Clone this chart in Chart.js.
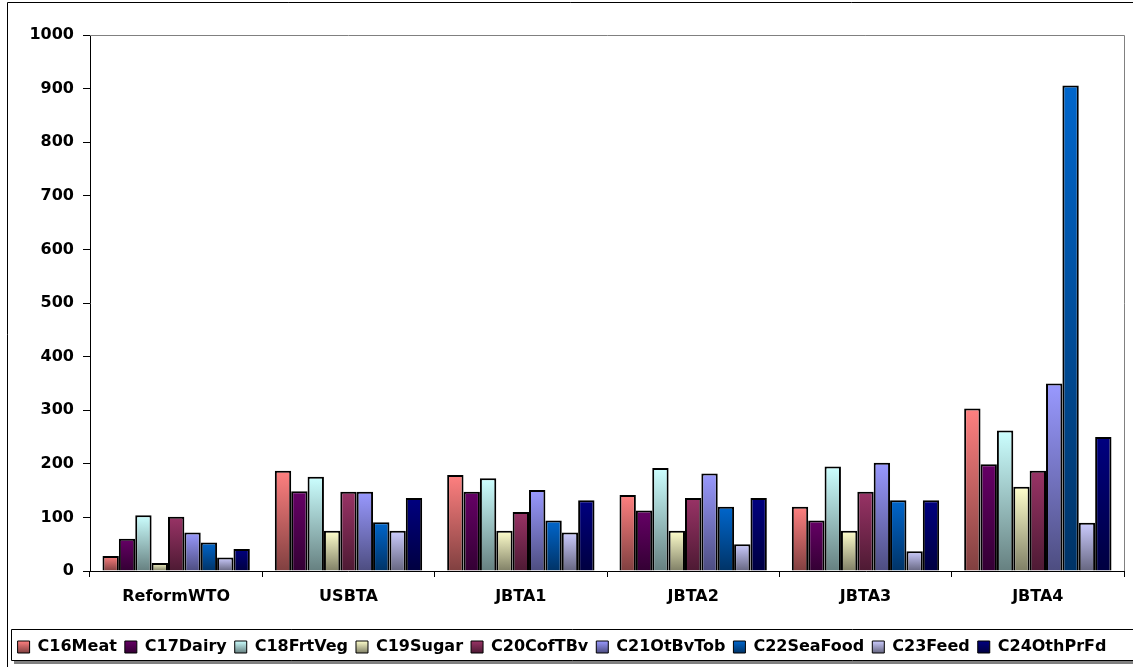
<!DOCTYPE html>
<html>
<head>
<meta charset="utf-8">
<title>Food imports by scenario</title>
<script src="https://cdn.jsdelivr.net/npm/chart.js@4/dist/chart.umd.min.js"></script>
<style>
  html, body { margin: 0; padding: 0; background: #ffffff; }
  canvas { display: block; }
</style>
</head>
<body>
<canvas id="chart" width="1133" height="667"></canvas>
<script>
// Scenarios along the category axis
const categories = ['ReformWTO', 'USBTA', 'JBTA1', 'JBTA2', 'JBTA3', 'JBTA4'];

// One series per commodity group, values per scenario
const c16Meat    = [28, 187, 179, 142, 120, 303];
const c17Dairy   = [60, 149, 148, 113, 94, 199];
const c18FrtVeg  = [104, 176, 173, 192, 195, 262];
const c19Sugar   = [15, 75, 75, 75, 75, 157];
const c20CofTBv  = [101, 148, 110, 136, 148, 187];
const c21OtBvTob = [72, 148, 151, 182, 202, 350];
const c22SeaFood = [53, 91, 94, 120, 132, 906];
const c23Feed    = [25, 75, 72, 50, 37, 90];
const c24OthPrFd = [41, 136, 132, 136, 132, 250];

const seriesNames = ['C16Meat', 'C17Dairy', 'C18FrtVeg', 'C19Sugar', 'C20CofTBv',
                     'C21OtBvTob', 'C22SeaFood', 'C23Feed', 'C24OthPrFd'];
const seriesValues = [c16Meat, c17Dairy, c18FrtVeg, c19Sugar, c20CofTBv,
                      c21OtBvTob, c22SeaFood, c23Feed, c24OthPrFd];

// Value axis tick labels
const yTickValues = [0, 100, 200, 300, 400, 500, 600, 700, 800, 900, 1000];

// Top colour of each series; bars fade to a darker shade at the base
const barColors = ['#FF8080', '#660066', '#CCFFFF', '#FFFFCC', '#993366',
                   '#9999FF', '#0066CC', '#CCCCFF', '#000080'];

const FONT = 'DejaVu Sans';

function shade(hex, f) {
  const n = parseInt(hex.slice(1), 16);
  const r = Math.round(((n >> 16) & 255) * f);
  const g = Math.round(((n >> 8) & 255) * f);
  const b = Math.round((n & 255) * f);
  return 'rgb(' + r + ',' + g + ',' + b + ')';
}

function barFill(color) {
  return (ctx) => {
    if (ctx.type !== 'data') return color;
    const chart = ctx.chart;
    const y = chart.scales && chart.scales.y;
    if (!chart.chartArea || !y) return color;
    const yTop = y.getPixelForValue(ctx.raw);
    const yBase = y.getPixelForValue(0);
    if (!isFinite(yTop) || yBase - yTop < 1) return color;
    const g = chart.ctx.createLinearGradient(0, yTop, 0, yBase);
    g.addColorStop(0, color);
    g.addColorStop(1, shade(color, 0.5));
    return g;
  };
}

const datasets = seriesNames.map((name, i) => ({
  label: name,
  data: seriesValues[i],
  backgroundColor: barFill(barColors[i]),
  borderColor: '#000000',
  borderWidth: 2,
  categoryPercentage: 0.855,
  barPercentage: 1.0
}));

const LEGEND_PAD = 8;
const LEGEND_FONT = 16;
const LEGEND_BOX = 12;

// Frames, plot border and gradient legend swatches
const framePlugin = {
  id: 'frames',
  beforeDraw(chart) {
    const c = chart.ctx;
    c.save();
    c.fillStyle = '#ffffff';
    c.fillRect(0, 0, chart.width, chart.height);
    c.restore();

    const lg = chart.legend;
    if (lg && lg.legendItems) {
      const y0 = lg.top + LEGEND_PAD + Math.max((LEGEND_FONT - LEGEND_BOX) / 2, 0);
      lg.legendItems.forEach((item, i) => {
        const g = c.createLinearGradient(0, y0, 0, y0 + LEGEND_BOX);
        g.addColorStop(0, barColors[i]);
        g.addColorStop(1, shade(barColors[i], 0.5));
        item.fillStyle = g;
      });
    }
  },
  afterDraw(chart) {
    const c = chart.ctx;
    const a = chart.chartArea;
    c.save();
    // plot area border (top and right)
    c.strokeStyle = '#808080';
    c.lineWidth = 1;
    c.beginPath();
    c.moveTo(a.left, a.top + 0.5);
    c.lineTo(a.right + 0.5, a.top + 0.5);
    c.lineTo(a.right + 0.5, a.bottom);
    c.stroke();

    // outer chart frame
    c.strokeStyle = '#000000';
    c.beginPath();
    c.moveTo(7.5, chart.height);
    c.lineTo(7.5, 2.5);
    c.lineTo(chart.width, 2.5);
    c.stroke();

    // legend frame with shadow
    const lg = chart.legend;
    const top = Math.round(lg.top) - 1.5;
    const bottom = top + 31;
    c.fillStyle = '#808080';
    c.fillRect(14, bottom + 0.5, chart.width, 3);
    c.strokeStyle = '#000000';
    c.beginPath();
    c.moveTo(chart.width, top);
    c.lineTo(11.5, top);
    c.lineTo(11.5, bottom);
    c.lineTo(chart.width, bottom);
    c.stroke();
    c.restore();
  }
};

new Chart(document.getElementById('chart'), {
  type: 'bar',
  data: { labels: categories, datasets: datasets },
  options: {
    responsive: false,
    devicePixelRatio: 1,
    animation: false,
    layout: { padding: { top: 35, right: 9, left: 0, bottom: 2 } },
    plugins: {
      tooltip: { enabled: false },
      legend: {
        position: 'bottom',
        labels: {
          boxWidth: LEGEND_BOX,
          boxHeight: LEGEND_BOX,
          padding: LEGEND_PAD,
          color: '#000000',
          font: { family: FONT, size: LEGEND_FONT, weight: 'bold' },
          generateLabels(chart) {
            const items = Chart.defaults.plugins.legend.labels.generateLabels(chart);
            items.forEach((it, i) => {
              it.fillStyle = barColors[i];
              it.strokeStyle = '#000000';
              it.lineWidth = 1;
            });
            return items;
          }
        }
      }
    },
    scales: {
      x: {
        grid: {
          offset: true,
          drawOnChartArea: false,
          drawTicks: true,
          tickLength: 6,
          tickColor: '#000000'
        },
        border: { color: '#000000', width: 1 },
        ticks: {
          padding: 10,
          color: '#000000',
          font: { family: FONT, size: 16, weight: 'bold' }
        },
        afterFit(scale) { scale.height = 60; }
      },
      y: {
        min: 0,
        max: 1000,
        grid: {
          drawOnChartArea: false,
          drawTicks: true,
          tickLength: 7,
          tickColor: '#000000'
        },
        border: { color: '#000000', width: 1 },
        ticks: {
          padding: 9,
          color: '#000000',
          font: { family: FONT, size: 16, weight: 'bold' },
          callback: (value) => String(value)
        },
        afterBuildTicks(scale) {
          scale.ticks = yTickValues.map(v => ({ value: v }));
        },
        afterFit(scale) { scale.width = 90; }
      }
    }
  },
  plugins: [framePlugin]
});
</script>
</body>
</html>
